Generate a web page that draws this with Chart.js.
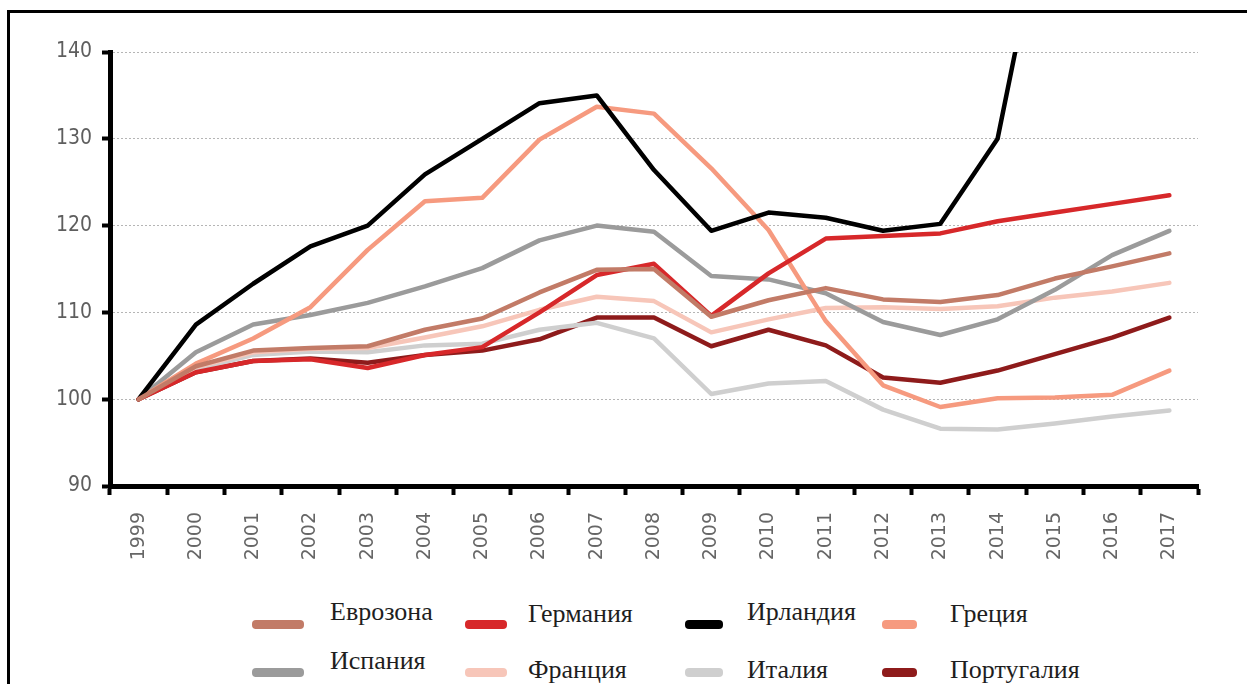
<!DOCTYPE html>
<html lang="ru">
<head>
<meta charset="utf-8">
<script src="https://cdn.jsdelivr.net/npm/chart.js@4/dist/chart.umd.min.js"></script>
<style>
    html, body { margin: 0; padding: 0; background: #fff; }
    body { width: 1247px; height: 684px; position: relative; overflow: hidden; }
    #frame {
        position: absolute; left: 7px; top: 10px; right: -10px; bottom: -10px;
        border-left: 3px solid #000; border-top: 3px solid #000;
    }
    #gdpChart { position: absolute; left: 0; top: 0; }
    .lg-mark { position: absolute; height: 9px; border-radius: 4px; }
    .lg-text {
        position: absolute; white-space: nowrap;
        font-family: 'Liberation Serif', 'DejaVu Serif', serif;
        font-size: 26px; line-height: 26px; color: #1e1e1e;
    }
</style>
</head>
<body>
<div id="frame"></div>
<canvas id="gdpChart" width="1247" height="580"></canvas>
<div id="legend"></div>

<script>
// Years on the x axis
const years = ['1999', '2000', '2001', '2002', '2003', '2004', '2005', '2006', '2007', '2008',
               '2009', '2010', '2011', '2012', '2013', '2014', '2015', '2016', '2017'];

// Index values, 1999 = 100
const eurozone = [100, 103.8, 105.6, 105.9, 106.1, 108.0, 109.3, 112.3, 114.9, 115.0,
                  109.5, 111.4, 112.8, 111.5, 111.2, 112.0, 113.9, 115.3, 116.8];
const germany  = [100, 103.1, 104.4, 104.6, 103.6, 105.1, 106.0, 110.0, 114.3, 115.6,
                  109.6, 114.5, 118.5, 118.8, 119.1, 120.5, 121.5, 122.5, 123.5];
const ireland  = [100, 108.6, 113.3, 117.6, 120.0, 125.9, 130.0, 134.1, 135.0, 126.4,
                  119.4, 121.5, 120.9, 119.4, 120.2, 130.0, 162.5, 168.0, 181.0];
const greece   = [100, 104.1, 107.0, 110.6, 117.2, 122.8, 123.2, 129.9, 133.7, 132.9,
                  126.6, 119.5, 109.0, 101.6, 99.1, 100.1, 100.2, 100.5, 103.3];
const spain    = [100, 105.4, 108.6, 109.7, 111.1, 113.0, 115.1, 118.3, 120.0, 119.3,
                  114.2, 113.8, 112.2, 108.9, 107.4, 109.2, 112.6, 116.6, 119.4];
const france   = [100, 103.7, 105.4, 105.8, 105.9, 107.1, 108.4, 110.3, 111.8, 111.3,
                  107.7, 109.2, 110.5, 110.6, 110.4, 110.7, 111.7, 112.4, 113.4];
const italy    = [100, 103.4, 105.1, 105.5, 105.4, 106.2, 106.4, 108.0, 108.8, 107.0,
                  100.6, 101.8, 102.1, 98.8, 96.6, 96.5, 97.2, 98.0, 98.7];
const portugal = [100, 103.1, 104.4, 104.7, 104.2, 105.1, 105.6, 106.9, 109.4, 109.4,
                  106.1, 108.0, 106.2, 102.5, 101.9, 103.3, 105.2, 107.1, 109.4];

// Legend order (two rows of four)
const seriesNames  = ['Еврозона', 'Германия', 'Ирландия', 'Греция',
                      'Испания', 'Франция', 'Италия', 'Португалия'];
const seriesData   = [eurozone, germany, ireland, greece, spain, france, italy, portugal];
const seriesColors = ['#c27b67', '#d7282a', '#000000', '#f69a7f',
                      '#9b9b9b', '#f7c6b9', '#cfcfcf', '#8e1b1b'];

// Y axis range
const yMin = 90, yMax = 140, yStep = 10;

const datasets = seriesNames.map((name, i) => ({
    label: name,
    data: seriesData[i],
    borderColor: seriesColors[i],
    backgroundColor: seriesColors[i],
    borderWidth: 4.5,
    pointRadius: 0,
    tension: 0,
    borderJoinStyle: 'round',
    borderCapStyle: 'round',
    fill: false
}));

const ctx = document.getElementById('gdpChart').getContext('2d');
const gdpChart = new Chart(ctx, {
    type: 'line',
    data: { labels: years, datasets: datasets },
    options: {
        responsive: false,
        animation: false,
        devicePixelRatio: 1,
        layout: { padding: { left: 0, right: 49, top: 52, bottom: 0 } },
        plugins: {
            legend: { display: false },
            tooltip: { enabled: false }
        },
        scales: {
            x: {
                offset: true,
                grid: {
                    offset: true,
                    drawOnChartArea: false,
                    tickColor: '#000',
                    tickWidth: 4,
                    tickLength: 9
                },
                border: { color: '#000', width: 5 },
                ticks: {
                    autoSkip: false,
                    minRotation: 90,
                    maxRotation: 90,
                    padding: 17,
                    color: '#666',
                    font: { family: 'DejaVu Sans', size: 19 }
                },
                afterFit: (axis) => { axis.height = 94; }
            },
            y: {
                min: yMin,
                max: yMax,
                grid: {
                    color: '#b5b5b5',
                    lineWidth: 1,
                    tickColor: '#000',
                    tickWidth: 4,
                    tickLength: 8
                },
                border: { color: '#000', width: 5, dash: [2, 2] },
                ticks: {
                    stepSize: yStep,
                    padding: 10,
                    color: '#5e5e5e',
                    font: { family: "'Liberation Sans Narrow', 'DejaVu Sans Condensed', sans-serif", size: 21 }
                },
                afterFit: (axis) => { axis.width = 110; }
            }
        }
    }
});

// HTML legend: two rows of four
const colMark  = [252, 465, 685, 882];
const markW    = [52, 42, 38, 35];
const colText  = [330, 528, 747, 950];
const rowMarkY = [620, 668];
const rowTextY = [599, 657];
const textNudge = [0, 2, 0, 2, -9, 0, 0, 0];

const legend = document.getElementById('legend');
seriesNames.forEach((name, i) => {
    const row = Math.floor(i / 4), col = i % 4;
    const mark = document.createElement('div');
    mark.className = 'lg-mark';
    mark.style.left = colMark[col] + 'px';
    mark.style.width = markW[col] + 'px';
    mark.style.top = rowMarkY[row] + 'px';
    mark.style.background = seriesColors[i];
    legend.appendChild(mark);

    const txt = document.createElement('div');
    txt.className = 'lg-text';
    txt.style.left = colText[col] + 'px';
    txt.style.top = (rowTextY[row] + textNudge[i]) + 'px';
    txt.textContent = name;
    legend.appendChild(txt);
});
</script>
</body>
</html>
